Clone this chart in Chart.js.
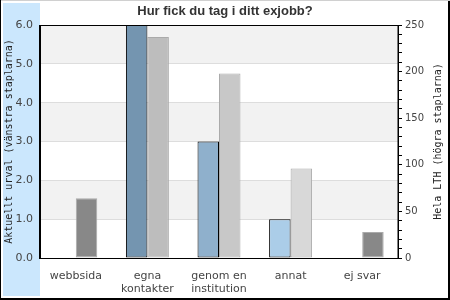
<!DOCTYPE html>
<html>
<head>
<meta charset="utf-8">
<script src="https://cdn.jsdelivr.net/npm/chart.js@4/dist/chart.umd.min.js"></script>
<style>
html,body{margin:0;padding:0;background:#fff;}
#wrap{width:450px;height:300px;position:relative;}
</style>
</head>
<body>
<div id="wrap"><canvas id="c" width="450" height="300"></canvas></div>
<script>
const categories = ['webbsida', ['egna', 'kontakter'], ['genom en', 'institution'], 'annat', 'ej svar'];
const urvalValues = [0, 6, 3, 1, 0];
const lthValues = [64, 237, 198, 96, 28];
const urvalColors = ['#7495b0', '#7495b0', '#8fb0cc', '#abcde8', '#abcde8'];
const lthColors = ['#888888', '#bdbdbd', '#c8c8c8', '#d8d8d8', '#888888'];
const leftTicks = [0, 1, 2, 3, 4, 5, 6];
const rightMax = 250;
const titleText = 'Hur fick du tag i ditt exjobb?';
const leftTitle = 'Aktuellt urval (vänstra staplarna)';
const rightTitle = 'Hela LTH (högra staplarna)';

const decor = {
  id: 'decor',
  beforeDraw(chart) {
    const ctx = chart.ctx, a = chart.chartArea, y = chart.scales.y;
    const W = chart.width, H = chart.height;
    ctx.save();
    ctx.fillStyle = '#fff';
    ctx.fillRect(0, 0, W, H);
    ctx.fillStyle = '#cbe7fd';
    ctx.fillRect(3, 3, a.left - 3, H - 7);
    ctx.fillStyle = '#ffffff';
    ctx.fillRect(a.left, a.top, a.right - a.left, a.bottom - a.top);
    ctx.fillStyle = '#f2f2f2';
    for (let i = 0; i < leftTicks.length - 1; i++) {
      if (i % 2 === 1) {
        const y1 = y.getPixelForValue(leftTicks[i + 1]);
        const y0 = y.getPixelForValue(leftTicks[i]);
        ctx.fillRect(a.left, y1, a.right - a.left, y0 - y1);
      }
    }
    ctx.restore();
  },
  afterDraw(chart) {
    const ctx = chart.ctx, a = chart.chartArea;
    const W = chart.width, H = chart.height;
    ctx.save();
    ctx.strokeStyle = '#000';
    ctx.lineWidth = 1;
    ctx.strokeRect(Math.round(a.left) - 0.5, Math.round(a.top) + 0.5, Math.round(a.right - a.left) + 0.5, Math.round(a.bottom - a.top));
    ctx.fillStyle = '#d0d0d0';
    ctx.fillRect(0, 0, W, 1);
    ctx.fillStyle = '#000';
    ctx.fillRect(0, 0, 1, H);
    ctx.fillRect(W - 2, 1, 2, H - 1);
    ctx.fillRect(0, H - 2, W, 2);
    ctx.font = '10px "DejaVu Sans Mono"';
    ctx.fillStyle = '#222';
    ctx.textAlign = 'center';
    ctx.textBaseline = 'middle';
    ctx.translate(438, (a.top + a.bottom) / 2);
    ctx.rotate(-Math.PI / 2);
    ctx.fillText(rightTitle, 0, 0);
    ctx.restore();
  }
};

new Chart(document.getElementById('c'), {
  type: 'bar',
  data: {
    labels: categories,
    datasets: [
      {
        label: 'Aktuellt urval',
        data: urvalValues,
        yAxisID: 'y',
        backgroundColor: urvalColors,
        borderColor: '#000',
        borderWidth: 1,
        borderSkipped: false,
        categoryPercentage: 0.6,
        barPercentage: 1.0
      },
      {
        label: 'Hela LTH',
        data: lthValues,
        yAxisID: 'y1',
        backgroundColor: lthColors,
        borderColor: '#aaaaaa',
        borderWidth: 1,
        borderSkipped: false,
        categoryPercentage: 0.6,
        barPercentage: 1.0
      }
    ]
  },
  options: {
    responsive: false,
    animation: false,
    devicePixelRatio: 1,
    layout: { padding: 0 },
    plugins: {
      legend: { display: false },
      tooltip: { enabled: false },
      title: {
        display: true,
        text: titleText,
        color: '#333',
        font: { family: '"Liberation Sans", Arial, sans-serif', size: 13, weight: 'bold', lineHeight: 1.2 },
        padding: { top: 4, bottom: 5.4 }
      }
    },
    scales: {
      x: {
        grid: { display: false, drawTicks: false },
        border: { display: true, color: '#000' },
        ticks: {
          color: '#444',
          font: { family: '"DejaVu Sans", sans-serif', size: 11, lineHeight: 1.15 },
          padding: 12,
          maxRotation: 0,
          autoSkip: false
        },
        afterFit(scale) { scale.height = 42; }
      },
      y: {
        position: 'left',
        min: 0,
        max: leftTicks[leftTicks.length - 1],
        grid: { color: '#dddddd', drawTicks: false },
        border: { display: true, color: '#000' },
        ticks: {
          stepSize: 1,
          color: '#444',
          font: { family: '"DejaVu Sans", sans-serif', size: 11 },
          padding: 7,
          callback: (v) => Number(v).toFixed(1)
        },
        title: {
          display: true,
          text: leftTitle,
          color: '#222',
          font: { family: '"DejaVu Sans Mono", monospace', size: 10 },
          padding: { top: 3, bottom: 0 }
        },
        afterFit(scale) { scale.width = 40; }
      },
      y1: {
        position: 'right',
        min: 0,
        max: rightMax,
        grid: { drawOnChartArea: false, drawTicks: true, tickLength: 4, color: '#000' },
        border: { display: true, color: '#000' },
        ticks: {
          stepSize: 10,
          autoSkip: false,
          color: '#444',
          font: { family: '"DejaVu Sans", sans-serif', size: 10 },
          padding: 3,
          callback: (v) => (v % 50 === 0 ? String(v) : '')
        },
        afterFit(scale) { scale.width = 52; }
      }
    }
  },
  plugins: [decor]
});
</script>
</body>
</html>
